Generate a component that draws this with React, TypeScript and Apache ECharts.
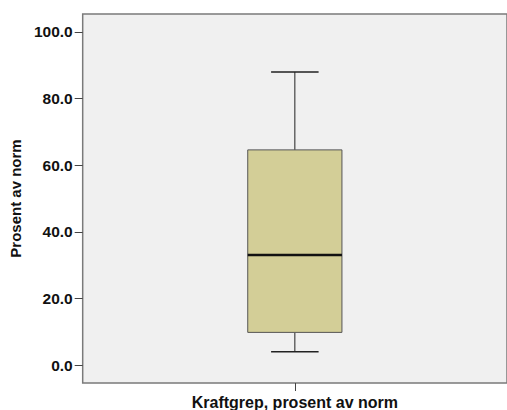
import React, { useEffect, useRef } from "react";
import * as echarts from "echarts";

const categories = ["Kraftgrep, prosent av norm"];
// [min, q1, median, q3, max]
const boxStats = [[4.0, 9.8, 33.0, 64.6, 88.0]];
const yTicks = [0, 20, 40, 60, 80, 100];
const yName = "Prosent av norm";

export default function App() {
  const ref = useRef<HTMLDivElement>(null);
  useEffect(() => {
    if (!ref.current) return;
    const chart = echarts.init(ref.current, null, { renderer: "svg" });
    const font = "'Liberation Sans', Arial, sans-serif";
    chart.setOption({
      animation: false,
      grid: {
        left: 80,
        top: 14,
        width: 429,
        bottom: 27,
        show: true,
        backgroundColor: "#f0f0f0",
        borderColor: "#7a7a7a",
        borderWidth: 1.5,
      },
      xAxis: {
        type: "category",
        data: categories,
        axisLine: { show: false, onZero: false },
        axisTick: { show: true, alignWithLabel: true, length: 8, lineStyle: { color: "#444" } },
        axisLabel: {
          margin: 11,
          color: "#111",
          fontWeight: "bold",
          fontSize: 16,
          fontFamily: font,
        },
        splitLine: { show: false },
      },
      yAxis: {
        type: "value",
        min: -5.4,
        max: 105.4,
        name: yName,
        nameLocation: "middle",
        nameGap: 57,
        nameTextStyle: { fontWeight: "bold", fontSize: 15, color: "#111", fontFamily: font },
        axisLine: { show: false },
        axisTick: { show: true, length: 8, customValues: yTicks, lineStyle: { color: "#444" } },
        axisLabel: {
          customValues: yTicks,
          margin: 10,
          color: "#111",
          fontWeight: "bold",
          fontSize: 15.5,
          fontFamily: font,
          formatter: (v: number) => v.toFixed(1),
        },
        splitLine: { show: false },
      },
      series: [
        {
          type: "custom",
          data: boxStats.map((s, i) => [i, ...s]),
          encode: { x: 0, y: [1, 2, 3, 4, 5] },
          renderItem: (params: any, api: any) => {
            const idx = api.value(0);
            const mn = api.coord([idx, api.value(1)]);
            const q1 = api.coord([idx, api.value(2)]);
            const md = api.coord([idx, api.value(3)]);
            const q3 = api.coord([idx, api.value(4)]);
            const mx = api.coord([idx, api.value(5)]);
            const band = api.size([1, 0])[0];
            const cx = mn[0];
            const bw = band * 0.222;
            const cw = band * 0.112;
            const stroke = { stroke: "#222", lineWidth: 1 };
            return {
              type: "group",
              children: [
                { type: "line", shape: { x1: cx, y1: q3[1], x2: cx, y2: mx[1] }, style: stroke },
                { type: "line", shape: { x1: cx, y1: q1[1], x2: cx, y2: mn[1] }, style: stroke },
                { type: "line", shape: { x1: cx - cw / 2, y1: mx[1], x2: cx + cw / 2, y2: mx[1] }, style: { stroke: "#222", lineWidth: 1.5 } },
                { type: "line", shape: { x1: cx - cw / 2, y1: mn[1], x2: cx + cw / 2, y2: mn[1] }, style: { stroke: "#222", lineWidth: 1.5 } },
                {
                  type: "rect",
                  shape: { x: cx - bw / 2, y: q3[1], width: bw, height: q1[1] - q3[1] },
                  style: { fill: "#d3ce97", stroke: "#555", lineWidth: 1 },
                },
                { type: "line", shape: { x1: cx - bw / 2, y1: md[1], x2: cx + bw / 2, y2: md[1] }, style: { stroke: "#111", lineWidth: 2.5 } },
              ],
            };
          },
        },
      ],
    });
    return () => chart.dispose();
  }, []);
  return <div ref={ref} style={{ position: "absolute", left: 0, top: 0, width: 507, height: 410 }} />;
}
